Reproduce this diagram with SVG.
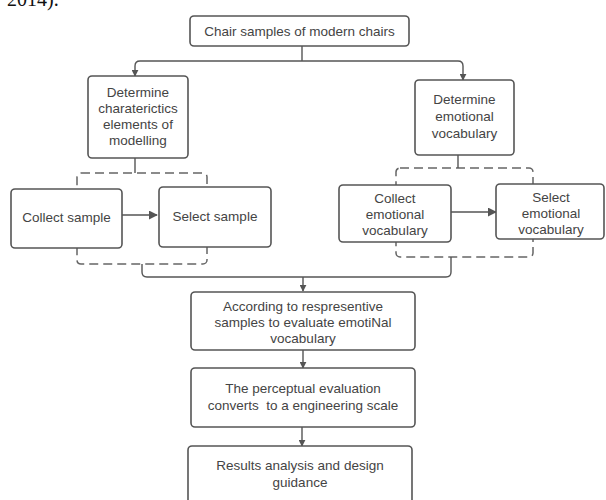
<svg xmlns="http://www.w3.org/2000/svg" width="606" height="500" viewBox="0 0 606 500">
<style>
.box{fill:#fff;stroke:#555;stroke-width:1.6}
.dash{fill:none;stroke:#666;stroke-width:1.5;stroke-dasharray:9 5}
.ln{fill:none;stroke:#555;stroke-width:1.4}
.t{font-family:"Liberation Sans",Arial,sans-serif;font-size:13.5px;fill:#444;text-anchor:middle}
</style>
<defs>
<marker id="ah" viewBox="0 0 10 10" refX="9" refY="5" markerWidth="7" markerHeight="7" markerUnits="userSpaceOnUse" orient="auto">
<path d="M0,0 L10,5 L0,10 z" fill="#555"/>
</marker>
<marker id="ahb" viewBox="0 0 10 10" refX="9" refY="5" markerWidth="9" markerHeight="9" markerUnits="userSpaceOnUse" orient="auto">
<path d="M0,0 L10,5 L0,10 z" fill="#555"/>
</marker>
</defs>
<text x="7" y="6" font-family="Liberation Serif,serif" font-size="20" fill="#111">2014).</text>
<g id="containers">
<rect class="dash" x="77" y="173" width="130" height="91" rx="4"/>
<rect class="dash" x="396" y="168" width="137" height="89" rx="4"/>
</g>
<g id="connectors">
<path class="ln" d="M302,46 V61"/>
<path class="ln" d="M302,61 H140 Q135,61 135,66 V76" marker-end="url(#ah)"/>
<path class="ln" d="M302,61 H458 Q463,61 463,66 V80" marker-end="url(#ah)"/>
<path class="ln" d="M135,158 V173"/>
<path class="ln" d="M458,155 V168"/>
<path class="ln" d="M122,215 H157" stroke-width="2.2" marker-end="url(#ahb)"/>
<path class="ln" d="M451,212 H496" stroke-width="2.2" marker-end="url(#ahb)"/>
<path class="ln" d="M142,264 V272 Q142,277 147,277 H446 Q451,277 451,272 V257"/>
<path class="ln" d="M303,277 V291" marker-end="url(#ah)"/>
<path class="ln" d="M303,350 V368" marker-end="url(#ah)"/>
<path class="ln" d="M302,427 V446" marker-end="url(#ah)"/>
</g>
<g id="n-chairs">
<rect class="box" x="190" y="16" width="219" height="30" rx="4"/>
<text class="t" x="299.5" y="35.5">Chair samples of modern chairs</text>
</g>
<g id="n-det-char">
<rect class="box" x="88" y="76" width="100" height="82" rx="4"/>
<text class="t" x="138" y="97">Determine</text>
<text class="t" x="138" y="113">charaterictics</text>
<text class="t" x="138" y="129">elements of</text>
<text class="t" x="138" y="145">modelling</text>
</g>
<g id="n-det-emo">
<rect class="box" x="415" y="80" width="99" height="75" rx="4"/>
<text class="t" x="464.5" y="104">Determine</text>
<text class="t" x="464.5" y="121">emotional</text>
<text class="t" x="464.5" y="138">vocabulary</text>
</g>
<g id="n-collect-sample">
<rect class="box" x="11" y="189" width="111" height="59" rx="4"/>
<text class="t" x="66.5" y="222">Collect sample</text>
</g>
<g id="n-select-sample">
<rect class="box" x="159" y="187" width="112" height="60" rx="4"/>
<text class="t" x="215" y="221">Select sample</text>
</g>
<g id="n-collect-emo">
<rect class="box" x="339" y="185" width="112" height="57" rx="4"/>
<text class="t" x="395" y="203">Collect</text>
<text class="t" x="395" y="219">emotional</text>
<text class="t" x="395" y="235">vocabulary</text>
</g>
<g id="n-select-emo">
<rect class="box" x="496" y="184" width="108" height="55" rx="4"/>
<text class="t" x="551" y="202">Select</text>
<text class="t" x="551" y="218">emotional</text>
<text class="t" x="551" y="234">vocabulary</text>
</g>
<g id="n-according">
<rect class="box" x="191" y="292" width="224" height="58" rx="4"/>
<text class="t" x="303" y="311">According to respresentive</text>
<text class="t" x="303" y="327">samples to evaluate emotiNal</text>
<text class="t" x="303" y="343">vocabulary</text>
</g>
<g id="n-perceptual">
<rect class="box" x="191" y="368" width="224" height="59" rx="4"/>
<text class="t" x="303" y="393">The perceptual evaluation</text>
<text class="t" x="303" y="410" xml:space="preserve">converts  to a engineering scale</text>
</g>
<g id="n-results">
<rect class="box" x="188" y="446" width="224" height="64" rx="4"/>
<text class="t" x="300" y="470">Results analysis and design</text>
<text class="t" x="300" y="487">guidance</text>
</g>
</svg>
